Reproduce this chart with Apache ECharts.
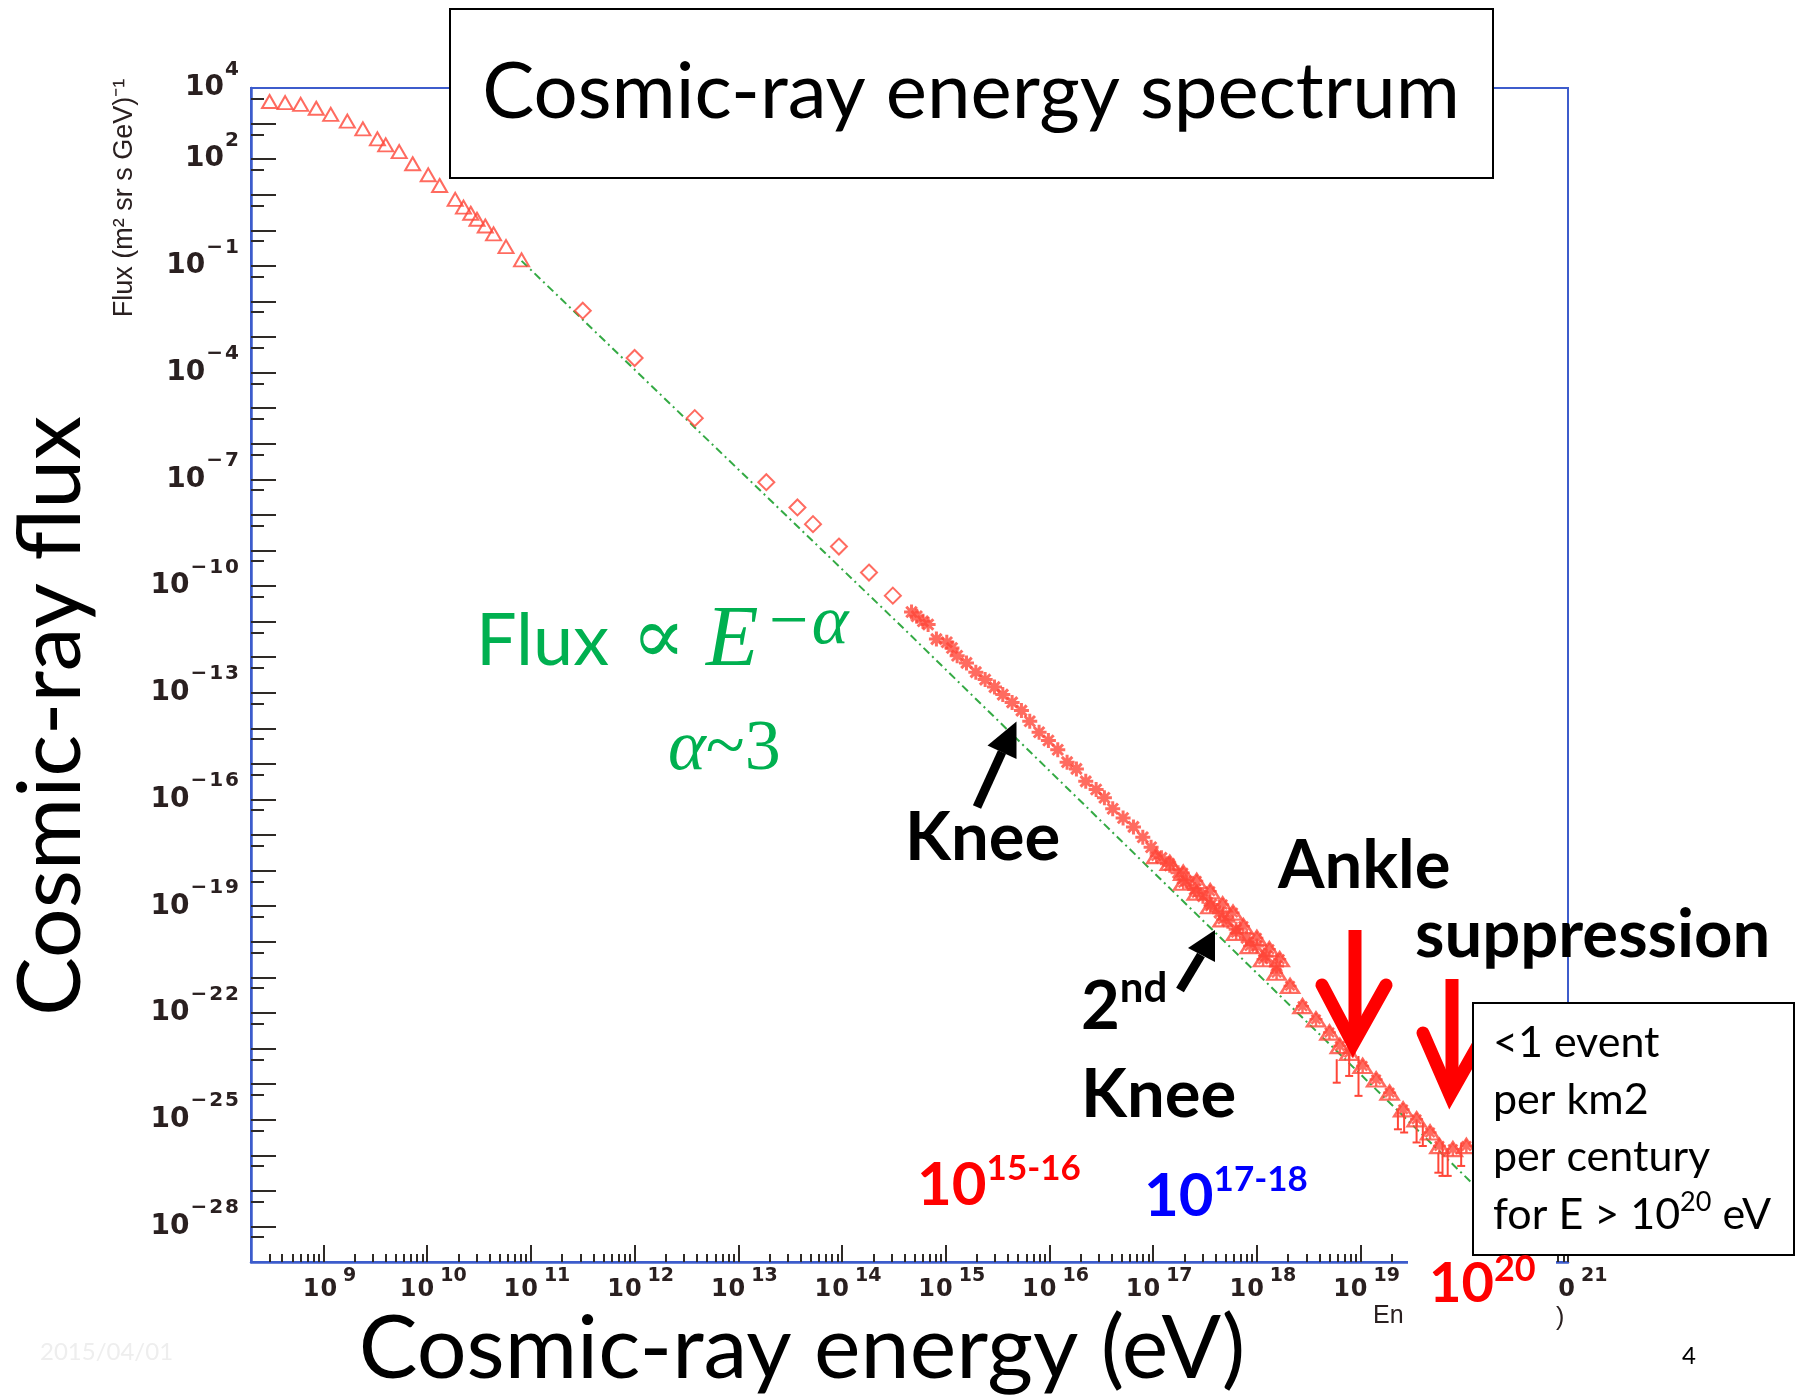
<!DOCTYPE html>
<html><head><meta charset="utf-8">
<script src="https://cdn.jsdelivr.net/npm/echarts@6/dist/echarts.min.js"></script>
<style>html,body{margin:0;padding:0;background:#fff}#c{width:1797px;height:1397px}</style>
</head><body><div id="c"></div>
<script>
// ---------- data (log10 of energy in eV, log10 of flux in (m^2 sr s GeV)^-1) ----------
const TRI_LOG_E    = [8.48, 8.63, 8.78, 8.93, 9.07, 9.23, 9.38, 9.52, 9.60, 9.73, 9.86, 10.01, 10.12, 10.27, 10.35, 10.42, 10.48, 10.56, 10.64, 10.76, 10.91];
const TRI_LOG_FLUX = [3.62, 3.59, 3.54, 3.43, 3.26, 3.07, 2.85, 2.57, 2.40, 2.21, 1.87, 1.56, 1.26, 0.87, 0.65, 0.48, 0.31, 0.12, -0.10, -0.46, -0.83];

const DIA_LOG_E    = [11.50, 12.00, 12.58, 13.27, 13.57, 13.72, 13.97, 14.26, 14.49];
const DIA_LOG_FLUX = [-2.26, -3.59, -5.28, -7.08, -7.79, -8.26, -8.89, -9.62, -10.27];

const STAR_LOG_E    = [14.67, 14.72, 14.78, 14.83, 14.91, 15.01, 15.06, 15.11, 15.20, 15.29, 15.38, 15.47, 15.55, 15.64, 15.73, 15.81, 15.90, 15.99, 16.08, 16.17, 16.26, 16.35, 16.45, 16.53, 16.61, 16.71, 16.81, 16.90, 16.98, 17.08, 17.16, 17.24, 17.32, 17.40, 17.48, 17.56, 17.64, 17.72, 17.80, 17.90, 18.00, 18.09, 18.19];
const STAR_LOG_FLUX = [-10.73, -10.85, -10.99, -11.08, -11.49, -11.58, -11.74, -11.96, -12.16, -12.42, -12.63, -12.84, -13.05, -13.27, -13.50, -13.80, -14.11, -14.34, -14.60, -14.95, -15.14, -15.49, -15.72, -15.95, -16.26, -16.52, -16.77, -17.06, -17.34, -17.64, -17.85, -18.06, -18.29, -18.53, -18.72, -18.95, -19.18, -19.42, -19.65, -19.89, -20.12, -20.40, -20.68];

const HI_LOG_E    = [17.03, 17.16, 17.29, 17.42, 17.55, 17.67, 17.77, 17.87, 18.00, 18.12, 18.22, 17.29, 17.42, 17.55, 17.67, 17.80, 17.93, 18.06, 18.19, 18.32, 18.44, 18.57, 18.70, 18.80, 18.89, 19.02, 19.15, 19.28, 19.41, 19.54, 19.67, 19.76, 19.89, 20.02];
const HI_LOG_FLUX = [-17.59, -17.78, -18.06, -18.29, -18.58, -18.95, -19.18, -19.56, -19.89, -20.21, -20.49, -18.34, -18.62, -19.00, -19.37, -19.75, -20.12, -20.49, -20.87, -21.24, -21.81, -22.18, -22.55, -22.93, -23.12, -23.49, -23.87, -24.24, -24.71, -24.99, -25.36, -25.74, -25.83, -25.74];

const ERR_LOG_E      = [18.77, 18.89, 18.98, 19.36, 19.42, 19.54, 19.60, 19.75, 19.79, 19.84, 19.97];
const ERR_LOG_TOP    = [-23.30, -22.93, -23.21, -24.71, -24.80, -24.99, -25.08, -25.93, -25.64, -25.83, -25.64];
const ERR_LOG_BOTTOM = [-23.96, -23.77, -24.33, -25.27, -25.36, -25.64, -25.74, -26.49, -26.58, -26.58, -26.30];

const FIT_LOG_E    = [10.91, 14.59, 20.07, 20.30];
const FIT_LOG_FLUX = [-0.86, -11.18, -26.77, -27.42];

// tick labels (exponents of 10)
const X_LABEL_EXPS = [9, 10, 11, 12, 13, 14, 15, 16, 17, 18, 19, 20, 21];
const Y_LABEL_EXPS = [4, 2, -1, -4, -7, -10, -13, -16, -19, -22, -25, -28];
const Y_MAJOR_EXPS = [-28,-27,-26,-25,-24,-23,-22,-21,-20,-19,-18,-17,-16,-15,-14,-13,-12,-11,-10,-9,-8,-7,-6,-5,-4,-3,-2,-1,0,1,2,3];

// ---------- styling ----------
const RED = '#ff4638';
const AXIS_BLUE = '#3d5ccc';
const TICK = '#2e2a26';
const LABEL_COL = '#2a2020';
const FIT_GREEN = '#34aa44';
const SLIDE_GREEN = '#00b050';
const X_MIN = Math.log10(2e8), X_MAX = 21, Y_MIN = -29, Y_MAX = 4;

const X_MINOR = [];
for (let n = 8; n <= 20; n++) for (let k = 2; k <= 9; k++) {
  const v = n + Math.log10(k);
  if (v > X_MIN + 0.01 && v < X_MAX - 0.001) X_MINOR.push(v);
}
const Y_MINOR = [];
for (let n = -29; n <= 3; n++) Y_MINOR.push(n + Math.log10(5));

const pairs = (a, b) => a.map((v, i) => [v, b[i]]);
const exp = v => { const n = Math.round(v); return n < 0 ? '\u2212' + (-n) : String(n); };
const tokens = (s, first, rest) => s.split('').map((ch, i) => '{' + (i === 0 ? first : rest) + '|' + ch + '}').join('');
const LF = 'DejaVu Sans';

const ASTERISK = 'path://M0,-10L0,10M-10,0L10,0M-7,-7L7,7M-7,7L7,-7';

const chart = echarts.init(document.getElementById('c'), null, {renderer: 'canvas'});

const tickStyle = {color: TICK, width: 2};
const xb = {fontSize: 24, fontWeight: 'bold', fontFamily: LF, color: LABEL_COL, lineHeight: 46};
const xs = {fontSize: 19, fontWeight: 'bold', fontFamily: LF, color: LABEL_COL, lineHeight: 20, verticalAlign: 'top'};
const yb = {fontSize: 28, fontWeight: 'bold', fontFamily: LF, color: LABEL_COL, lineHeight: 57};
const ys = {fontSize: 20, fontWeight: 'bold', fontFamily: LF, color: LABEL_COL, lineHeight: 22, verticalAlign: 'top'};

const option = {
  animation: false,
  backgroundColor: '#fff',
  grid: {left: 251, top: 88, width: 1317, height: 1174, show: true, borderColor: AXIS_BLUE, borderWidth: 2, backgroundColor: 'transparent'},
  xAxis: [
    {type: 'value', min: X_MIN, max: X_MAX, position: 'bottom',
     axisLine: {show: true, onZero: false, lineStyle: {color: AXIS_BLUE, width: 2.5}},
     axisTick: {show: true, inside: true, length: 17, customValues: X_LABEL_EXPS, lineStyle: tickStyle},
     axisLabel: {show: true, customValues: X_LABEL_EXPS, margin: 5,
       formatter: v => '{b1|1}{b2|0}' + tokens(exp(v), 's1', 's2'),
       rich: {b1: Object.assign({}, xb, {padding: [0, 0, 0, 12]}), b2: Object.assign({}, xb, {padding: [0, 0, 0, 1]}),
              s1: Object.assign({}, xs, {padding: [0, 0, 0, 6]}), s2: xs}},
     splitLine: {show: false}},
    {type: 'value', min: X_MIN, max: X_MAX, position: 'bottom',
     axisLine: {show: false, onZero: false},
     axisTick: {show: true, inside: true, length: 8, customValues: X_MINOR, lineStyle: tickStyle},
     axisLabel: {show: false}, splitLine: {show: false}}
  ],
  yAxis: [
    {type: 'value', min: Y_MIN, max: Y_MAX, interval: 1, position: 'left',
     axisLine: {show: true, onZero: false, lineStyle: {color: AXIS_BLUE, width: 2.5}},
     axisTick: {show: true, inside: true, length: 25, customValues: Y_MAJOR_EXPS, lineStyle: tickStyle},
     axisLabel: {show: true, customValues: Y_LABEL_EXPS, margin: 12,
       formatter: v => '{b1|1}{b2|0}' + tokens(exp(v), 's1', 's2'),
       rich: {b1: yb, b2: yb,
              s1: Object.assign({}, ys, {padding: [0, 0, 0, 1]}), s2: Object.assign({}, ys, {padding: [0, 0, 0, 2]})}},
     splitLine: {show: false}},
    {type: 'value', min: Y_MIN, max: Y_MAX, position: 'left',
     axisLine: {show: false, onZero: false},
     axisTick: {show: true, inside: true, length: 13, customValues: Y_MINOR, lineStyle: tickStyle},
     axisLabel: {show: false}, splitLine: {show: false}}
  ],
  series: [
    {type: 'line', name: 'E^-alpha', data: pairs(FIT_LOG_E, FIT_LOG_FLUX), showSymbol: false, silent: true, z: 1,
     lineStyle: {color: FIT_GREEN, width: 2, type: [8, 4, 2, 4]}},
    {type: 'scatter', name: 'low', data: pairs(TRI_LOG_E, TRI_LOG_FLUX), symbol: 'triangle', symbolSize: [15, 13],
     itemStyle: {color: 'rgba(255,255,255,0)', borderColor: RED, borderWidth: 2}},
    {type: 'scatter', name: 'direct', data: pairs(DIA_LOG_E, DIA_LOG_FLUX), symbol: 'diamond', symbolSize: [16, 16],
     itemStyle: {color: 'rgba(255,255,255,0)', borderColor: RED, borderWidth: 2}},
    {type: 'scatter', name: 'air shower', data: pairs(STAR_LOG_E, STAR_LOG_FLUX), symbol: ASTERISK, symbolSize: 15,
     itemStyle: {color: RED, borderColor: RED, borderWidth: 3}},
    {type: 'scatter', name: 'UHE', data: pairs(HI_LOG_E, HI_LOG_FLUX), symbol: 'triangle', symbolSize: [18, 14],
     itemStyle: {color: 'rgba(255,255,255,0)', borderColor: RED, borderWidth: 2.5}},
    {type: 'scatter', name: 'UHE*', data: pairs(HI_LOG_E, HI_LOG_FLUX), symbol: ASTERISK, symbolSize: 13,
     itemStyle: {color: RED, borderColor: RED, borderWidth: 2.5}},
    {type: 'custom', name: 'errors', data: ERR_LOG_E.map((e, i) => [e, ERR_LOG_TOP[i], ERR_LOG_BOTTOM[i]]),
     encode: {x: 0, y: [1, 2]},
     renderItem: (params, api) => {
       const a = api.coord([api.value(0), api.value(1)]);
       const b = api.coord([api.value(0), api.value(2)]);
       return {type: 'group', children: [
         {type: 'line', shape: {x1: a[0], y1: a[1], x2: b[0], y2: b[1]}, style: {stroke: RED, lineWidth: 2}},
         {type: 'line', shape: {x1: b[0] - 4, y1: b[1], x2: b[0] + 4, y2: b[1]}, style: {stroke: RED, lineWidth: 2}}
       ]};
     }}
  ],
  graphic: []
};

// ---------- slide annotations ----------
const G = option.graphic;
const T = (x, y, text, st, extra) => G.push(Object.assign({type: 'text', x, y, z: 120,
  style: Object.assign({text, align: 'left', verticalAlign: 'middle', textAlign: 'left', textVerticalAlign: 'middle'}, st)}, extra || {}));

// title box
G.push({type: 'rect', z: 110, shape: {x: 450, y: 9, width: 1043, height: 169}, style: {fill: '#fff', stroke: '#000', lineWidth: 2}});
T(971, 93, 'Cosmic-ray energy spectrum', {fontFamily: 'Lato', fontSize: 78, fill: '#000', align: 'center', textAlign: 'center'});

// big axis titles
T(52, 716, 'Cosmic-ray flux', {fontFamily: 'Lato', fontSize: 88, fill: '#000', align: 'center', textAlign: 'center'}, {rotation: Math.PI / 2});
T(802, 1350, 'Cosmic-ray energy (eV)', {fontFamily: 'Lato', fontSize: 88, fill: '#000', align: 'center', textAlign: 'center'});

// original small axis titles
T(125, 198, 'Flux (m\u00b2 sr s GeV)\u207b\u00b9', {fontFamily: 'Liberation Sans', fontSize: 27, fill: LABEL_COL, align: 'center', textAlign: 'center'}, {rotation: Math.PI / 2});
T(1373, 1316, 'En', {fontFamily: 'Liberation Sans', fontSize: 25, fill: LABEL_COL});
T(1556, 1318, ')', {fontFamily: 'Liberation Sans', fontSize: 25, fill: LABEL_COL});

// formula
T(476, 642, '{a|Flux }{p|\u221d}{a| }{e|E}{s|\u2212\u03b1}', {rich: {
  a: {fontFamily: 'Lato', fontSize: 72, fill: SLIDE_GREEN, lineHeight: 104},
  p: {fontFamily: 'DejaVu Serif', fontSize: 80, fill: SLIDE_GREEN, lineHeight: 104, padding: [0, 2, 0, 4]},
  e: {fontFamily: 'Liberation Serif', fontStyle: 'italic', fontSize: 86, fill: SLIDE_GREEN, lineHeight: 104},
  s: {fontFamily: 'Liberation Serif', fontStyle: 'italic', fontSize: 70, fill: SLIDE_GREEN, lineHeight: 60, verticalAlign: 'top', padding: [0, 0, 0, 6]}}});
T(668, 750, '{a|\u03b1}{t|~3}', {rich: {
  a: {fontFamily: 'Liberation Serif', fontStyle: 'italic', fontSize: 72, fill: SLIDE_GREEN},
  t: {fontFamily: 'Liberation Serif', fontSize: 72, fill: SLIDE_GREEN}}});

const bold = {fontFamily: 'Lato', fontWeight: 'bold', fontSize: 67, fill: '#000'};
T(905, 838, 'Knee', bold);
T(1278, 866, 'Ankle', bold);
T(1415, 935, 'suppression', bold);
T(1081, 1007, '{a|2}{s|nd}', {rich: {
  a: {fontFamily: 'Lato', fontWeight: 'bold', fontSize: 67, fill: '#000', lineHeight: 80},
  s: {fontFamily: 'Lato', fontWeight: 'bold', fontSize: 42, fill: '#000', lineHeight: 44, verticalAlign: 'top'}}});
T(1081, 1095, 'Knee', bold);

// arrows
const arrow = (tail, base, tip, left, right, w) => {
  G.push({type: 'line', z: 115, shape: {x1: tail[0], y1: tail[1], x2: base[0], y2: base[1]}, style: {stroke: '#000', lineWidth: w}});
  G.push({type: 'polygon', z: 115, shape: {points: [tip, left, right]}, style: {fill: '#000'}});
};
arrow([977, 807], [1002, 752], [1016.5, 721.5], [987.5, 745.5], [1016.5, 759.1], 9);
arrow([1180, 990], [1201, 955], [1215, 930], [1188, 948], [1215, 962], 9);
const redArrow = (x, y0, tipY, armX0, armX1, armY) => {
  G.push({type: 'line', z: 100, shape: {x1: x, y1: y0, x2: x, y2: tipY - 10}, style: {stroke: '#ff0000', lineWidth: 13}});
  G.push({type: 'polyline', z: 100, shape: {points: [[armX0, armY], [x - 2, tipY], [armX1, armY]]},
          style: {stroke: '#ff0000', lineWidth: 13, lineCap: 'round', lineJoin: 'miter', fill: null}});
};
redArrow(1355, 930, 1044, 1322, 1386, 985);
redArrow(1452, 979, 1095, 1423, 1485, 1033);

// energy range labels
const sup = (color, big, small) => ({rich: {
  a: {fontFamily: 'Lato', fontWeight: 'bold', fontSize: big, fill: color, lineHeight: big * 1.15},
  s: {fontFamily: 'Lato', fontWeight: 'bold', fontSize: small, fill: color, lineHeight: small * 1.05, verticalAlign: 'top'}}});
T(917, 1186, '{a|10}{s|15-16}', sup('#ff0000', 60, 35));
T(1144, 1197, '{a|10}{s|17-18}', sup('#0000ff', 60, 35));
G.push({type: 'rect', z: 118, shape: {x: 1408, y: 1240, width: 148, height: 95}, style: {fill: '#fff'}});
T(1429, 1284, '{a|10}{s|20}', sup('#ff0000', 56, 36));

// explanation box
G.push({type: 'rect', z: 119, shape: {x: 1473, y: 1003, width: 321, height: 252}, style: {fill: '#fff', stroke: '#000', lineWidth: 2}});
const boxFont = {fontFamily: 'Lato', fontSize: 43, fill: '#000'};
T(1493, 1043, '<1 event', boxFont);
T(1493, 1100, 'per km2', boxFont);
T(1493, 1157, 'per century', boxFont);
T(1493, 1215, '{a|for E > 10}{s|20}{a| eV}', {rich: {
  a: {fontFamily: 'Lato', fontSize: 43, fill: '#000', lineHeight: 52},
  s: {fontFamily: 'Lato', fontSize: 27, fill: '#000', lineHeight: 28, verticalAlign: 'top'}}});

// footer
T(1682, 1356, '4', {fontFamily: 'Lato', fontSize: 24, fill: '#000'});
T(40, 1352, '2015/04/01', {fontFamily: 'Lato', fontSize: 24, fill: '#eeeeee'});

chart.setOption(option);
</script></body></html>
